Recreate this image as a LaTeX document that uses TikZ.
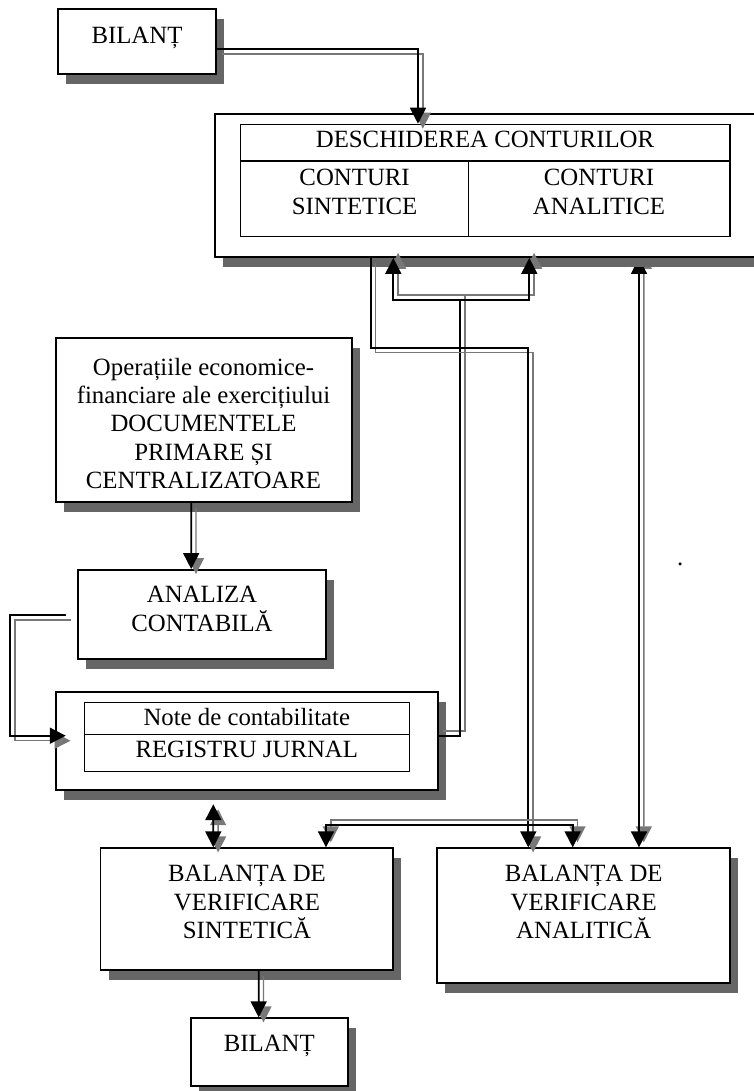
\documentclass[tikz,border=0pt]{standalone}
\usepackage{fontspec}
\setmainfont{Liberation Serif}
\usetikzlibrary{arrows.meta,shadows,backgrounds}
\definecolor{shadowgray}{RGB}{102,102,102}
\definecolor{wiregray}{RGB}{120,120,120}
\tikzset{
  >={Triangle[width=12pt,length=12pt]},
  box/.style={draw,line width=1.4pt,fill=white,inner sep=0pt,
    general shadow={fill=shadowgray,shadow xshift=6pt,shadow yshift=-7.5pt}},
  cell/.style={draw,line width=0.9pt,inner sep=0pt},
  txt/.style={font=\fontsize{18.6}{21.3}\selectfont,align=center,inner sep=0pt,text depth=0pt},
  wire/.style={line width=1.3pt},
  wire dn/.style={wire,preaction={draw=wiregray,line width=1.1pt,transform canvas={shift={(3.6pt,-3.75pt)}}}},
  wire up/.style={wire,preaction={draw=wiregray,line width=1.1pt,transform canvas={shift={(3.6pt,3.75pt)}}}},
}
\begin{document}
\begin{tikzpicture}[x=0.75pt,y=0.75pt,yscale=-1,xscale=1]
\useasboundingbox (0,0) rectangle (753,1091);

% boxes
\node[box,minimum width=118.5pt,minimum height=48.75pt] (bil1) at (137,41.5) {};
\node[box,minimum width=427.5pt,minimum height=107.25pt] (desc) at (500,185.5) {};
\node[cell,minimum width=367.05pt,minimum height=27.5pt] (deschT) at (485.3,142.65) {};
\node[cell,minimum width=171.1pt,minimum height=56.85pt] (sintC) at (354.65,198.9) {};
\node[cell,minimum width=196pt,minimum height=56.85pt] (analC) at (599.35,198.9) {};
\node[box,minimum width=222pt,minimum height=122.8pt] (ops) at (203.7,419.85) {};
\node[box,minimum width=185.5pt,minimum height=66.75pt] (ana) at (202,614.5) {};
\node[box,minimum width=286.5pt,minimum height=73.7pt] (reg) at (246.7,740.85) {};
\node[cell,minimum width=243.75pt,minimum height=23.7pt] (noteC) at (246.8,718.5) {};
\node[cell,minimum width=243.75pt,minimum height=28.05pt] (jurC) at (246.8,753) {};
\node[box,minimum width=219.2pt,minimum height=91.3pt] (bvs) at (246.65,909.15) {};
\node[box,minimum width=219.8pt,minimum height=100.8pt] (bva) at (583.85,915.5) {};
\node[box,minimum width=118.2pt,minimum height=50.8pt] (bil2) at (269.5,1052.15) {};

% texts
\node[txt] (bil1t) at (137,35) {BILANȚ};
\node[txt] (deschTt) at (485,139.7) {DESCHIDEREA CONTURILOR};
\node[txt] (sintCt) at (354.6,191.9) {CONTURI\\SINTETICE};
\node[txt] (analCt) at (599,191.9) {CONTURI\\ANALITICE};
\node[txt] (opst) at (203.5,423.2) {Operațiile economice-\\financiare ale exercițiului\\DOCUMENTELE\\PRIMARE ȘI\\CENTRALIZATOARE};
\node[txt] (anat) at (202,609) {ANALIZA\\CONTABILĂ};
\node[txt] (noteCt) at (246.8,717) {Note de contabilitate};
\node[txt] (jurCt) at (246.8,749.2) {REGISTRU JURNAL};
\node[txt] (bvst) at (247,902) {BALANȚA DE\\VERIFICARE\\SINTETICĂ};
\node[txt] (bvat) at (583.7,902) {BALANȚA DE\\VERIFICARE\\ANALITICĂ};
\node[txt] (bil2t) at (269.3,1043.3) {BILANȚ};
\node[txt,anchor=base] (dot) at (680.3,565.5) {.};

% connectors
\coordinate (tj) at ([shift={(-40,42)}]desc.south);
\draw[wire dn,->] ([shift={(0,7.5)}]bil1.east) -| ([shift={(-67.3,0)}]deschT.north);
\draw[wire dn,->] ([shift={(-12.5,0)}]ops.south) -- ([shift={(-10.8,0)}]ana.north);
\draw[wire dn,->] ([shift={(-11.6,0.5)}]ana.west) -- ++(-55.7,0) |- ([shift={(11,-5.15)}]reg.west);
\draw[wire up] ([shift={(0,-4.85)}]reg.east) -| (tj);
\draw[wire up,<->] ([shift={(-106.7,0)}]desc.south) |- (tj) -| ([shift={(29.3,0)}]desc.south);
\draw[wire dn,->] ([shift={(-129.3,0)}]desc.south) -- ++(0,89.7) -| ([shift={(-55.55,0)}]bva.north);
\begin{scope}[on background layer]
\draw[wire up,<->] ([shift={(139,0)}]desc.south) -- ([shift={(55.15,0)}]bva.north);
\end{scope}
\draw[wire up,<->] ([shift={(79.35,0)}]bvs.north) -- ++(0,-22.3) -| ([shift={(-11.15,0)}]bva.north);
\draw[wire dn,<->] ([shift={(-33.4,13.3)}]reg.south) -- ([shift={(-33.35,0)}]bvs.north);
\draw[wire dn,->] ([shift={(12.05,0)}]bvs.south) -- ([shift={(-10.8,0)}]bil2.north);

\end{tikzpicture}
\end{document}
